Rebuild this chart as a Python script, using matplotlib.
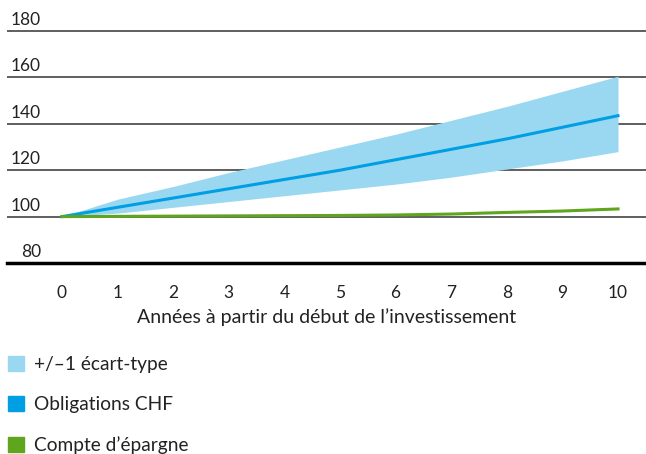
import matplotlib.pyplot as plt
from matplotlib.patches import Patch

plt.rcParams['font.family'] = ['Lato', 'DejaVu Sans']

# Data
years = [0, 1, 2, 3, 4, 5, 6, 7, 8, 9, 10]
obligations = [100, 104, 108, 112, 116, 120, 124.5, 129, 133.5, 138.5, 143.5]
upper = [100, 107.5, 113, 119, 124.5, 130, 135.5, 141.5, 147.5, 154, 160.5]
lower = [100, 101.5, 104, 106.5, 109, 111.5, 114, 117, 120.5, 124, 128]
epargne = [100, 100.1, 100.2, 100.3, 100.4, 100.5, 100.7, 101.1, 101.8, 102.4, 103.3]
y_ticks = [80, 100, 120, 140, 160, 180]

c_band = '#9ad8f2'
c_blue = '#009fe3'
c_green = '#5fa51d'
c_text = '#222222'

fig = plt.figure(figsize=(6.46, 4.54), dpi=100)
ax = fig.add_axes([7/646, 1 - 263/454, 639/646, (263 - 28)/454])

ax.fill_between(years, lower, upper, color=c_band, lw=0)
ax.plot(years, obligations, color=c_blue, lw=2.2)
ax.plot(years, epargne, color=c_green, lw=2.2)

ax.set_xlim(-55/55.6, 10 + 28/55.6)
ax.set_ylim(80, 180 + 3/2.32)

# horizontal grid lines and labels above them
for v in y_ticks:
    if v == 80:
        ax.axhline(v, color='black', lw=2.5, zorder=0, clip_on=False)
    else:
        ax.axhline(v, color='#333333', lw=1.1, zorder=0)
    ax.annotate(str(v), xy=(0, v), xycoords=('axes fraction', 'data'),
                xytext=(34, 3), textcoords='offset pixels',
                ha='right', va='bottom', fontsize=12.5, color=c_text)

for s in ax.spines.values():
    s.set_visible(False)
ax.set_yticks([])
ax.set_xticks(years)
ax.tick_params(axis='x', length=0, pad=16, labelsize=12.5, labelcolor=c_text)
ax.set_xlabel("Années à partir du début de l’investissement", fontsize=14,
              color=c_text, labelpad=5)

handles = [Patch(color=c_band), Patch(color=c_blue), Patch(color=c_green)]
labels = ['+/–1 écart-type', 'Obligations CHF', 'Compte d’épargne']
fig.legend(handles, labels, loc='upper left', bbox_to_anchor=(0.0, 1 - 348/454),
           frameon=False, fontsize=13.8, handlelength=0.85, handleheight=0.85,
           handletextpad=0.55, labelspacing=1.2, borderaxespad=0,
           labelcolor=c_text)

fig.savefig('out.png', dpi=100)
